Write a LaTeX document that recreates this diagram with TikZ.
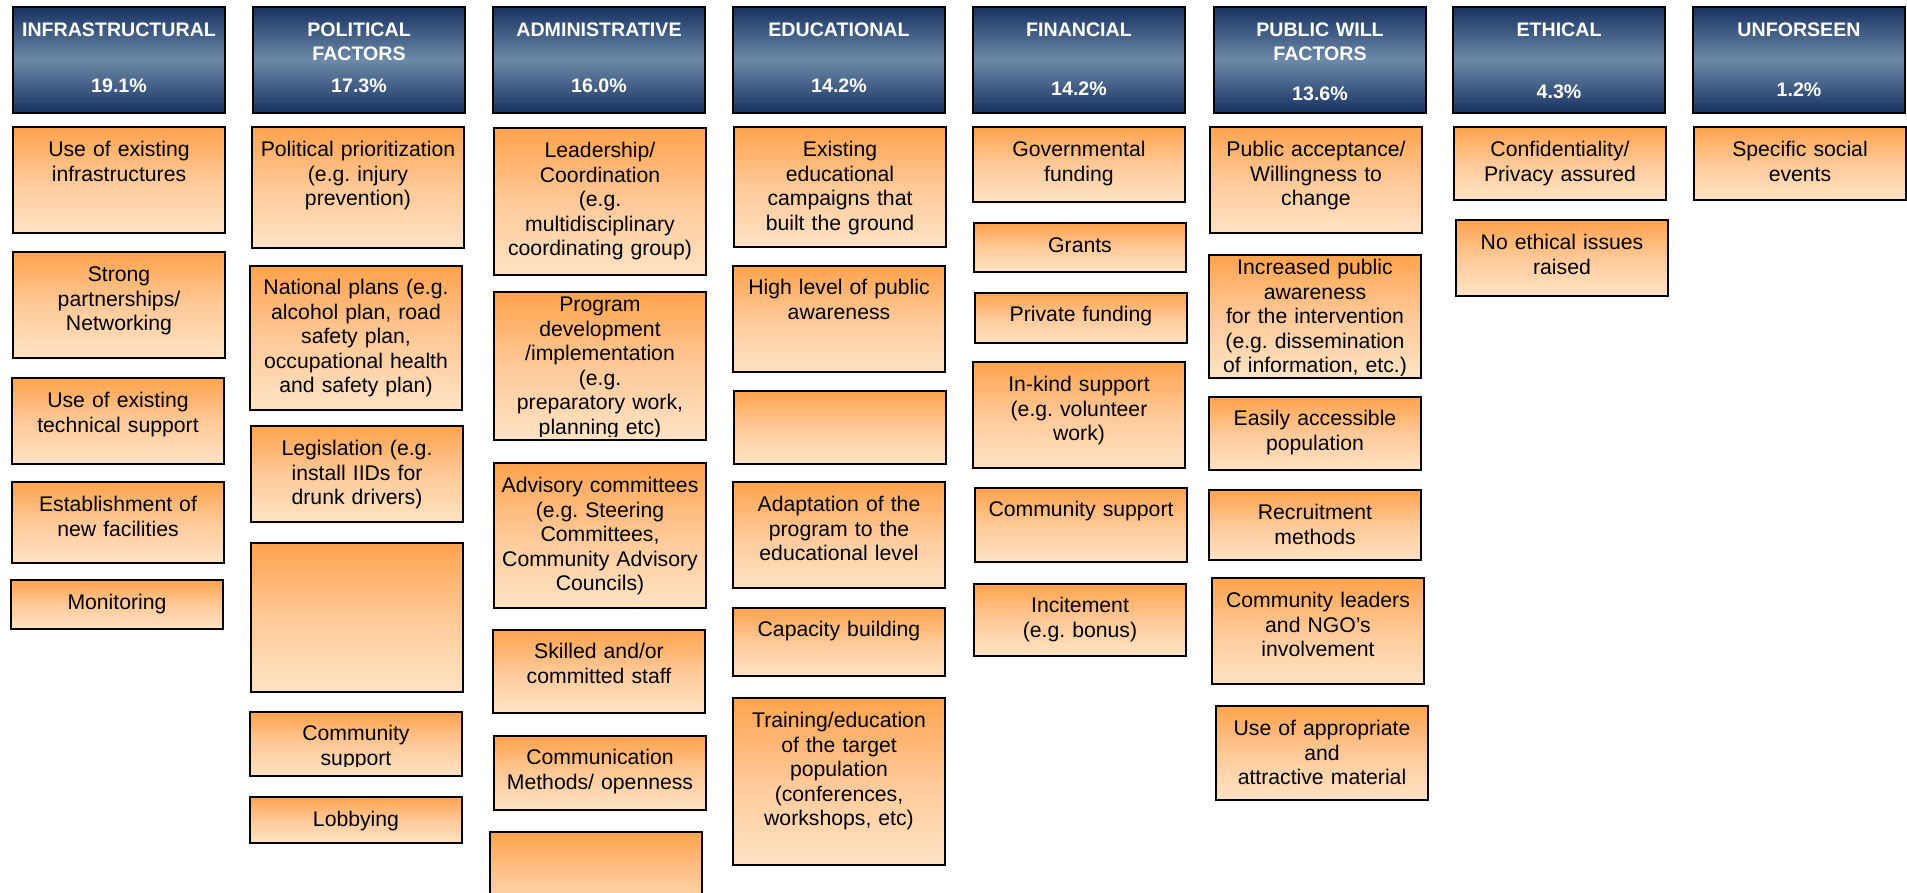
\documentclass[tikz,border=0pt]{standalone}
\usepackage{fontspec}
\setmainfont{Liberation Sans}
\usepackage{xcolor}
\definecolor{navy}{RGB}{24,50,98}
\definecolor{slate}{RGB}{108,138,168}
\definecolor{itemtop}{RGB}{255,163,77}
\definecolor{itemmid}{RGB}{255,201,152}
\definecolor{itembot}{RGB}{255,227,196}
\frenchspacing

\begin{document}
\begin{tikzpicture}
[x=1pt, y=-1pt,
 box/.style={draw=black, line width=2pt, anchor=north west, inner sep=0pt,
   minimum width=212pt},
 head/.style={box, top color=navy, bottom color=navy, middle color=slate,
   minimum height=106pt},
 item/.style={box, top color=itemtop, bottom color=itembot, middle color=itemmid},
 txtdrop/.store in=\txtdrop, txtdrop=29.5pt,
 txtcut/.store in=\txtcut, txtcut=0pt,
 inner text/.style={anchor=base, text width=208pt, align=center, inner sep=0pt,
   minimum width=0pt, minimum height=0pt},
 itemtext/.style={inner text, text=black, font=\fontsize{21.2}{24.6}\selectfont},
 headtext/.style={inner text, text=white, font=\bfseries\fontsize{19.6}{24}\selectfont},
 txt/.style={path picture={
   \clip (path picture bounding box.north west)
     rectangle ([yshift=\txtcut]path picture bounding box.south east);
   \node[itemtext] at ([yshift=-\txtdrop]path picture bounding box.north) {#1};}},
 hd/.style n args={3}{head, path picture={
   \node[headtext] at ([yshift=-30pt]path picture bounding box.north) {#1};
   \node[headtext] at ([yshift=-#3]path picture bounding box.north) {#2};}},
]

\path[use as bounding box, fill=white] (0,0) rectangle (1907,893);

% column heads
\node[hd={INFRASTRUCTURAL}{19.1\%}{86pt}]          (infra) at (12,6) {};
\node[hd={POLITICAL\\FACTORS}{17.3\%}{86pt}]       (pol)   at (252,6) {};
\node[hd={ADMINISTRATIVE}{16.0\%}{86pt}]           (adm)   at (492,6) {};
\node[hd={EDUCATIONAL}{14.2\%}{86pt}]              (edu)   at (732,6) {};
\node[hd={FINANCIAL}{14.2\%}{89pt}]                (fin)   at (972,6) {};
\node[hd={PUBLIC WILL\\FACTORS}{13.6\%}{94pt}]     (pub)   at (1213,6) {};
\node[hd={ETHICAL}{4.3\%}{92pt}]                   (eth)   at (1452,6) {};
\node[hd={UNFORSEEN}{1.2\%}{90pt}]                 (unf)   at (1692,6) {};

% infrastructural
\node[item, minimum height=106pt, txt={Use of existing\\infrastructures}] (infra1) at (12,126) {};
\node[item, minimum height=106pt, txt={Strong\\partnerships/\\Networking}] (infra2) at (12,251) {};
\node[item, minimum height=86pt, txt={Use of existing\\technical support}] (infra3) at (11,377) {};
\node[item, minimum height=81pt, txt={Establishment of\\new facilities}] (infra4) at (11,481) {};
\node[item, minimum height=49pt, txt={Monitoring}] (infra5) at (10,579) {};

% political
\node[item, minimum height=121pt, txt={Political prioritization\\(e.g. injury\\prevention)}] (pol1) at (251,126) {};
\node[item, minimum height=144pt, txtdrop=28.5pt,
  txt={National plans (e.g.\\alcohol plan, road\\safety plan,\\occupational health\\and safety plan)}] (pol2) at (249,265) {};
\node[item, minimum height=96pt, txt={Legislation (e.g.\\install IIDs for\\drunk drivers)}] (pol3) at (250,425) {};
\node[item, minimum height=149pt] (pol4) at (250,542) {};
\node[item, minimum height=64pt, txtdrop=28.5pt, txtcut=10pt, txt={Community\\support}] (pol5) at (249,711) {};
\node[item, minimum height=46pt, txt={Lobbying}] (pol6) at (249,796) {};

% administrative
\node[item, minimum height=147pt,
  txt={Leadership/\\Coordination\\(e.g.\\multidisciplinary\\coordinating group)}] (adm1) at (493,127) {};
\node[item, minimum height=148pt, txtdrop=19.5pt, txtcut=4pt,
  txt={Program\\development\\/implementation\\(e.g.\\preparatory work,\\planning etc)}] (adm2) at (493,291) {};
\node[item, minimum height=145pt,
  txt={Advisory committees\\(e.g. Steering\\Committees,\\Community Advisory\\Councils)}] (adm3) at (493,462) {};
\node[item, minimum height=83pt, txtdrop=28.5pt, txt={Skilled and/or\\committed staff}] (adm4) at (492,629) {};
\node[item, minimum height=74pt, txtdrop=28.5pt, txt={Communication\\Methods/ openness}] (adm5) at (493,735) {};
\node[item, minimum height=100pt] (adm6) at (489,831) {};

% educational
\node[item, minimum height=120pt,
  txt={Existing\\educational\\campaigns that\\built the ground}] (edu1) at (733,126) {};
\node[item, minimum height=106pt, txtdrop=28.5pt, txt={High level of public\\awareness}] (edu2) at (732,265) {};
\node[item, minimum height=73pt] (edu3) at (733,390) {};
\node[item, minimum height=106pt,
  txt={Adaptation of the\\program to the\\educational level}] (edu4) at (732,481) {};
\node[item, minimum height=68pt, txtdrop=28.5pt, txt={Capacity building}] (edu5) at (732,607) {};
\node[item, minimum height=167pt,
  txt={Training/education\\of the target\\population\\(conferences,\\workshops, etc)}] (edu6) at (732,697) {};

% financial
\node[item, minimum height=75pt, txt={Governmental\\funding}] (fin1) at (972,126) {};
\node[item, minimum height=49pt, txt={Grants}] (fin2) at (973,222) {};
\node[item, minimum height=50pt, txtdrop=28.5pt, txt={Private funding}] (fin3) at (974,292) {};
\node[item, minimum height=106pt, txt={In-kind support\\(e.g. volunteer\\work)}] (fin4) at (972,361) {};
\node[item, minimum height=74pt, txtdrop=28.5pt, txt={Community support}] (fin5) at (974,487) {};
\node[item, minimum height=72pt, txtdrop=28.5pt, txt={Incitement\\(e.g. bonus)}] (fin6) at (973,583) {};

% public will
\node[item, minimum height=106pt,
  txt={Public acceptance/\\Willingness to\\change}] (pub1) at (1209,126) {};
\node[item, minimum height=123pt, txtdrop=19.5pt, txtcut=2pt,
  txt={Increased public\\awareness\\for the intervention\\(e.g. dissemination\\of information, etc.)}] (pub2) at (1208,254) {};
\node[item, minimum height=73pt, txtdrop=28.5pt, txt={Easily accessible\\population}] (pub3) at (1208,396) {};
\node[item, minimum height=70pt, txt={Recruitment\\methods}] (pub4) at (1208,489) {};
\node[item, minimum height=106pt,
  txt={Community leaders\\and NGO's\\involvement}] (pub5) at (1211,577) {};
\node[item, minimum height=94pt,
  txt={Use of appropriate\\and\\attractive material}] (pub6) at (1215,705) {};

% ethical
\node[item, minimum height=73pt, txt={Confidentiality/\\Privacy assured}] (eth1) at (1453,126) {};
\node[item, minimum height=76pt, txt={No ethical issues\\raised}] (eth2) at (1455,219) {};

% unforseen
\node[item, minimum height=73pt, txt={Specific social\\events}] (unf1) at (1693,126) {};
\end{tikzpicture}
\end{document}
